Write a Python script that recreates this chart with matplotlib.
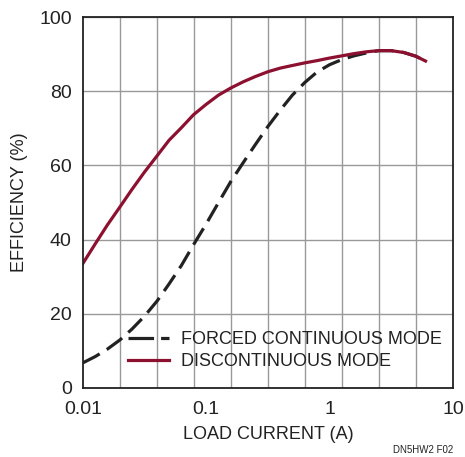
import numpy as np
import matplotlib
matplotlib.use("Agg")
import matplotlib.pyplot as plt
from matplotlib.ticker import FixedLocator, NullFormatter

# Data
fc_current = [0.01, 0.0126, 0.0158, 0.02, 0.025, 0.0316, 0.04, 0.05, 0.063, 0.079, 0.1, 0.126,
              0.158, 0.2, 0.25, 0.316, 0.4, 0.5, 0.63, 0.79, 1.0, 1.26, 1.58, 2.0, 2.5, 3.16,
              4.0, 5.0, 6.0]
fc_eff = [6.7, 8.4, 10.4, 12.9, 15.8, 19.3, 23.4, 28.0, 33.0, 38.6, 44.2, 50.0,
          55.6, 60.8, 65.6, 70.5, 75.0, 79.0, 82.4, 85.2, 87.2, 88.6, 89.6, 90.4, 91.0, 91.0,
          90.5, 89.5, 88.2]

dc_current = [0.01, 0.0126, 0.0158, 0.02, 0.025, 0.0316, 0.04, 0.05, 0.063, 0.079, 0.1, 0.126,
              0.158, 0.2, 0.25, 0.316, 0.4, 0.5, 0.63, 0.79, 1.0, 1.26, 1.58, 2.0, 2.5, 3.16,
              4.0, 5.0, 6.0]
dc_eff = [33.5, 38.8, 43.9, 48.8, 53.5, 58.2, 62.6, 66.8, 70.2, 73.7, 76.5, 79.0,
          80.9, 82.6, 84.0, 85.3, 86.3, 87.0, 87.7, 88.3, 89.0, 89.6, 90.2, 90.7, 91.0, 91.0,
          90.5, 89.5, 88.2]

x_ticks = [0.01, 0.1, 1, 10]
x_tick_labels = ["0.01", "0.1", "1", "10"]
y_ticks = [0, 20, 40, 60, 80, 100]

plt.rcParams['font.family'] = ['Liberation Sans', 'DejaVu Sans']

fig = plt.figure(figsize=(4.65, 4.57), dpi=100)
ax = fig.add_axes([0.178, 0.1516, 0.796, 0.8105])

red = "#8c1030"
ax.plot(fc_current, fc_eff, color="#222222", lw=2.3, dashes=(6, 2.6),
        label="FORCED CONTINUOUS MODE", solid_capstyle="butt")
ax.plot(dc_current, dc_eff, color=red, lw=2.3, label="DISCONTINUOUS MODE")

ax.set_xscale("log")
ax.set_xlim(0.01, 10)
ax.set_ylim(0, 100)

# evenly spaced vertical grid (10 divisions across 3 decades)
grid_x = 10 ** np.linspace(-2, 1, 11)
ax.xaxis.set_minor_locator(FixedLocator(grid_x))
ax.xaxis.set_minor_formatter(NullFormatter())
ax.set_xticks(x_ticks)
ax.set_xticklabels(x_tick_labels)
ax.set_yticks(y_ticks)
ax.grid(False)
ax.grid(True, which="minor", axis="x", color="#999999", lw=1.0)
ax.grid(True, which="major", axis="y", color="#999999", lw=1.0)
ax.set_axisbelow(True)

ax.tick_params(axis="both", which="both", length=0, labelsize=14, colors="#222222")
ax.tick_params(axis="x", pad=9.5)
ax.tick_params(axis="y", pad=8)
for s in ax.spines.values():
    s.set_color("#222222")
    s.set_linewidth(1.3)

ax.set_xlabel("LOAD CURRENT (A)", fontsize=13, color="#222222", labelpad=6)
ax.set_ylabel("EFFICIENCY (%)", fontsize=13, color="#222222", labelpad=8)

leg = ax.legend(loc="lower right", bbox_to_anchor=(1.0, 0.018), frameon=False,
                fontsize=13, handlelength=2.3, handletextpad=0.65,
                labelspacing=0.28, borderaxespad=0.2)
for t in leg.get_texts():
    t.set_color("#222222")
leg.get_lines()[0].set_dashes((8, 2.2))

fig.text(0.975, 0.004, "DN5HW2 F02", fontsize=7, ha="right", va="bottom", color="#222222")

fig.savefig("out.png", dpi=100)
